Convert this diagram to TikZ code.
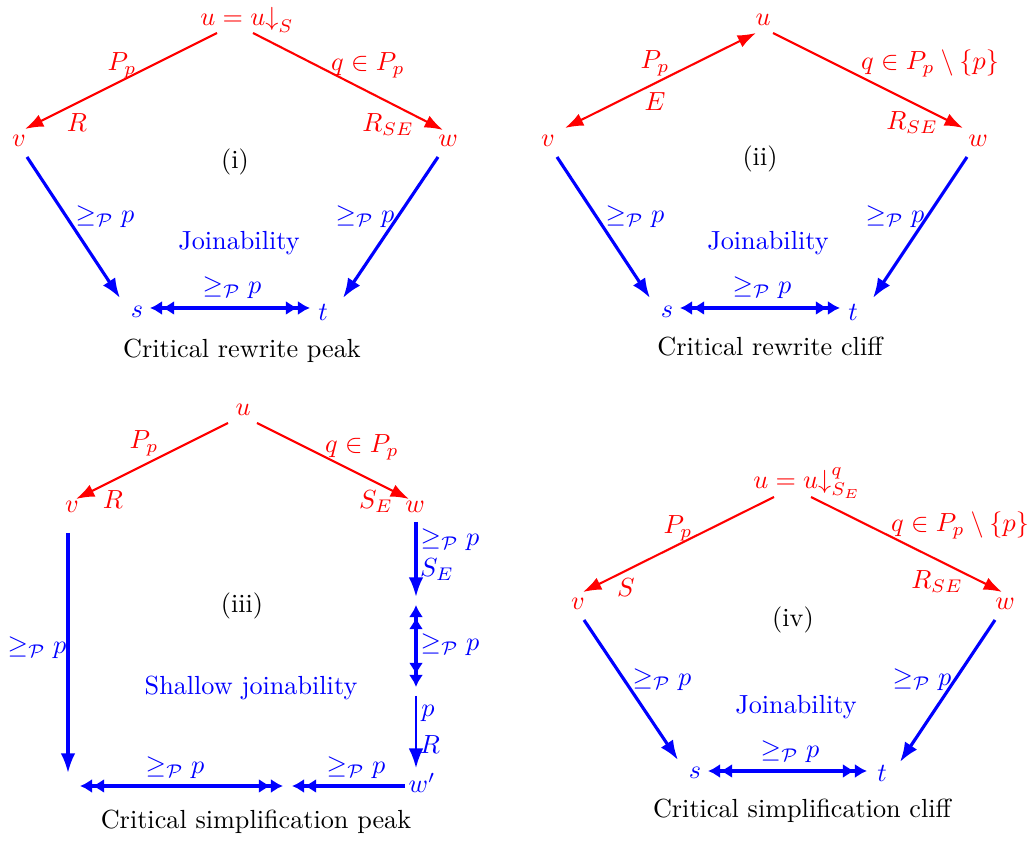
\documentclass[tikz,border=0pt]{standalone}
\usetikzlibrary{arrows.meta,calc}
\begin{document}
\begin{tikzpicture}[x=0.013416cm,y=-0.013416cm,
  rn/.style={text=red, inner sep=0pt},
  bn/.style={text=blue, inner sep=0pt},
  plain/.style={inner sep=0pt},
  captext/.style={inner sep=0pt, anchor=base},
  emp/.style={inner sep=0pt, minimum size=0pt},
  TR/.tip={Latex[length=7pt,width=5pt]},
  TB/.tip={Latex[length=7.5pt,width=5.6pt]},
  DL/.tip={Latex[length=4.6pt,width=5.4pt,sep=0pt]Latex[length=4.6pt,width=5.4pt]},
  redarr/.style={draw=red, line width=0.8pt, -{TR}},
  redboth/.style={draw=red, line width=0.8pt, {TR}-{TR}},
  bluearr/.style={draw=blue, line width=1.2pt, -{TB}},
  bluethin/.style={draw=blue, line width=0.8pt, -{TB}},
  dbl/.style={draw=blue, line width=1.2pt, {DL}-{DL}},
  dblend/.style={draw=blue, line width=1.2pt, -{DL}},
]
\useasboundingbox (0,0) rectangle (1032,841);
\newcommand{\gp}{$\geq_{\mathcal{P}} p$}

% ---------------- Panel (i)
\node[rn] (u1) at (247,20) {$u = u{\downarrow}_S$};
\node[rn] (v1) at (19,141) {$v$};
\node[rn] (w1) at (448,141) {$w$};
\node[bn] (s1) at (137,312) {$s$};
\node[bn] (t1) at (323,312) {$t$};
\node[plain] (n1) at (235,162) {(i)};
\node[plain,text=blue] (j1) at (239,243) {Joinability};
\node[captext] (c1) at (242,358) {Critical rewrite peak};
\draw[redarr] ($(u1)+(-30,13)$) -- ($(v1)+(6,-12)$);
\draw[redarr] ($(u1)+(6,13)$) -- ($(w1)+(-5,-11)$);
\node[rn] (l1a) at (122,65) {$P_p$};
\node[rn] (l1b) at (77,123) {$R$};
\node[rn] (l1c) at (368,65) {$q \in P_p$};
\node[rn] (l1d) at (388,125) {$R_{SE}$};
\draw[bluearr] ($(v1)+(8,16)$) -- ($(s1)+(-17,-14)$);
\draw[bluearr] ($(w1)+(-10,16)$) -- ($(t1)+(20,-14)$);
\draw[dbl] ($(s1)+(13,-4)$) -- ($(t1)+(-13,-4)$);
\node[bn] (l1e) at (105,217) {\gp};
\node[bn] (l1f) at (365,217) {\gp};
\node[bn] (l1g) at (232,288) {\gp};

% ---------------- Panel (ii)
\node[rn] (u2) at (763,20) {$u$};
\node[rn] (v2) at (548,141) {$v$};
\node[rn] (w2) at (978,141) {$w$};
\node[bn] (s2) at (667,312) {$s$};
\node[bn] (t2) at (853,312) {$t$};
\node[plain] (n2) at (760,159) {(ii)};
\node[plain,text=blue] (j2) at (768,243) {Joinability};
\node[captext] (c2) at (770,356) {Critical rewrite cliff};
\draw[redboth] ($(v2)+(17,-13)$) -- ($(u2)+(-7,13)$);
\draw[redarr] ($(u2)+(10,13)$) -- ($(w2)+(-15,-13)$);
\node[rn] (l2a) at (655,63) {$P_p$};
\node[rn] (l2b) at (655,102) {$E$};
\node[rn] (l2c) at (930,63) {$q \in P_p \setminus \{p\}$};
\node[rn] (l2d) at (912,123) {$R_{SE}$};
\draw[bluearr] ($(v2)+(9,16)$) -- ($(s2)+(-17,-14)$);
\draw[bluearr] ($(w2)+(-11,16)$) -- ($(t2)+(20,-14)$);
\draw[dbl] ($(s2)+(13,-4)$) -- ($(t2)+(-13,-4)$);
\node[bn] (l2e) at (635,217) {\gp};
\node[bn] (l2f) at (895,217) {\gp};
\node[bn] (l2g) at (762,288) {\gp};

% ---------------- Panel (iii)
\node[rn] (u3) at (243,410) {$u$};
\node[rn] (v3) at (72,507) {$v$};
\node[rn] (w3) at (415,507) {$w$};
\node[bn] (x3) at (422,783) {$w'$};
\node[emp] (m1) at (416,601) {};
\node[emp] (m2) at (416,692) {};
\node[emp] (k3) at (68,786) {};
\node[emp] (m3) at (286,786) {};
\node[plain] (n3) at (242,606) {(iii)};
\node[plain,text=blue] (j3) at (251,688) {Shallow joinability};
\node[captext] (c3) at (256,829) {Critical simplification peak};
\draw[redarr] ($(u3)+(-15,13)$) -- ($(v3)+(4,-8)$);
\draw[redarr] ($(u3)+(14,13)$) -- ($(w3)+(-6,-8)$);
\node[rn] (l3a) at (144,443) {$P_p$};
\node[rn] (l3b) at (113,500) {$R$};
\node[rn] (l3c) at (362,447) {$q \in P_p$};
\node[rn] (l3d) at (376,502) {$S_E$};
\draw[bluearr] ($(w3)+(1,15)$) -- ($(m1)+(0,-4)$);
\draw[dbl] ($(m1)+(0,4)$) -- ($(m2)+(0,-5)$);
\draw[bluethin] ($(m2)+(0,4)$) -- ($(x3)+(-6,-15)$);
\draw[bluearr] ($(v3)+(-4,26)$) -- ($(k3)+(0,-13)$);
\draw[dbl] ($(k3)+(12,0)$) -- ($(m3)+(-3,0)$);
\draw[dblend] ($(x3)+(-17,3)$) -- ($(m3)+(6,0)$);
\node[bn] (l3e) at (450,540) {\gp};
\node[bn] (l3f) at (437,570) {$S_E$};
\node[bn] (l3g) at (450,645) {\gp};
\node[bn] (l3h) at (428,713) {$p$};
\node[bn] (l3i) at (430,745) {$R$};
\node[bn] (l3j) at (37,648) {\gp};
\node[bn] (l3k) at (175,768) {\gp};
\node[bn] (l3l) at (356,768) {\gp};

% ---------------- Panel (iv)
\node[rn] (u4) at (807,483) {$u = u{\downarrow}^q_{S_E}$};
\node[rn] (v4) at (578,604) {$v$};
\node[rn] (w4) at (1005,604) {$w$};
\node[bn] (s4) at (695,773) {$s$};
\node[bn] (t4) at (882,773) {$t$};
\node[plain] (n4) at (793,620) {(iv)};
\node[plain,text=blue] (j4) at (796,707) {Joinability};
\node[captext] (c4) at (802,818) {Critical simplification cliff};
\draw[redarr] ($(u4)+(-33,14)$) -- ($(v4)+(5,-12)$);
\draw[redarr] ($(u4)+(4,14)$) -- ($(w4)+(-3,-12)$);
\node[rn] (l4a) at (678,528) {$P_p$};
\node[rn] (l4b) at (626,588) {$S$};
\node[rn] (l4c) at (960,525) {$q \in P_p \setminus \{p\}$};
\node[rn] (l4d) at (937,582) {$R_{SE}$};
\draw[bluearr] ($(v4)+(6,16)$) -- ($(s4)+(-17,-13)$);
\draw[bluearr] ($(w4)+(-10,16)$) -- ($(t4)+(18,-11)$);
\draw[dbl] ($(s4)+(13,-2)$) -- ($(t4)+(-15,-2)$);
\node[bn] (l4e) at (662,680) {\gp};
\node[bn] (l4f) at (922,680) {\gp};
\node[bn] (l4g) at (790,752) {\gp};
\end{tikzpicture}
\end{document}
